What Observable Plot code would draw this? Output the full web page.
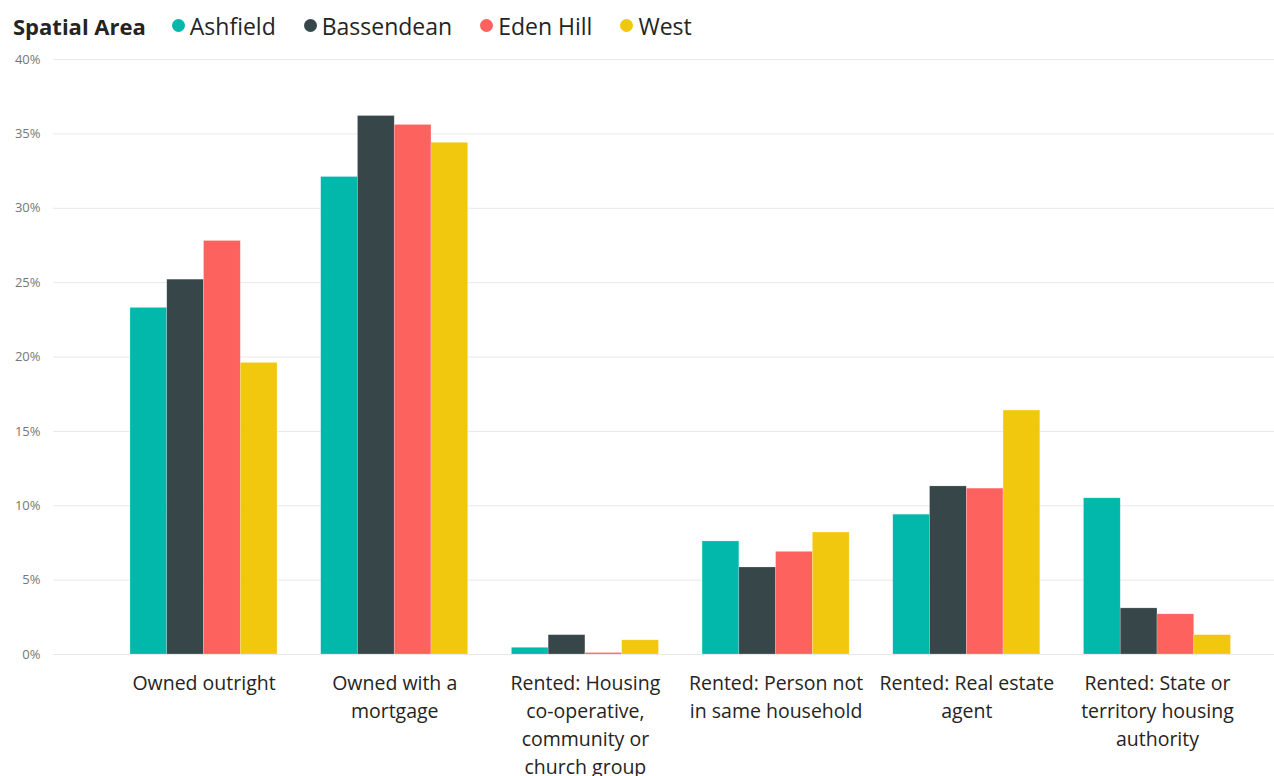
<!DOCTYPE html>
<html>
<head>
<meta charset="utf-8">
<script src="https://cdn.jsdelivr.net/npm/d3@7"></script>
<script src="https://cdn.jsdelivr.net/npm/@observablehq/plot@0.6"></script>
<style>
  html, body { margin: 0; padding: 0; background: #fff; overflow: hidden; }
  body { font-family: "Open Sans", "Noto Sans", sans-serif; }
  #legend { height: 48px; display: flex; align-items: center; padding-left: 13px; color: #252423; box-sizing: border-box; padding-top: 3px; }
  #legend .title { font-weight: 700; font-size: 22px; margin-right: 26px; }
  #legend .item { display: flex; align-items: center; margin-right: 28px; font-size: 23px; }
  #legend .dot { width: 13px; height: 13px; border-radius: 50%; margin-right: 5px; }
  #chart { position: relative; width: 1274px; height: 735px; }
  #chart svg { position: absolute; left: 0; top: 0; }
</style>
</head>
<body>
<div id="legend"></div>
<div id="chart"></div>
<script>
const categories = [
  "Owned outright",
  "Owned with a mortgage",
  "Rented: Housing co-operative, community or church group",
  "Rented: Person not in same household",
  "Rented: Real estate agent",
  "Rented: State or territory housing authority"
];
const tickLabels = [
  "Owned outright",
  "Owned with a\nmortgage",
  "Rented: Housing\nco-operative,\ncommunity or\nchurch group",
  "Rented: Person not\nin same household",
  "Rented: Real estate\nagent",
  "Rented: State or\nterritory housing\nauthority"
];
const series = ["Ashfield", "Bassendean", "Eden Hill", "West"];
const colors = ["#01B8AA", "#374649", "#FD625E", "#F2C80F"];
const ashfield   = [23.3, 32.1, 0.45, 7.6, 9.4, 10.5];
const bassendean = [25.2, 36.2, 1.3, 5.85, 11.3, 3.1];
const edenHill   = [27.8, 35.6, 0.1, 6.9, 11.15, 2.7];
const west       = [19.6, 34.4, 0.95, 8.2, 16.4, 1.3];
const yTicks = [0, 5, 10, 15, 20, 25, 30, 35, 40];

const seriesValues = [ashfield, bassendean, edenHill, west];
const data = [];
categories.forEach((c, i) => {
  series.forEach((s, j) => data.push({category: c, series: s, value: seriesValues[j][i]}));
});

// legend
const legend = document.getElementById("legend");
const t = document.createElement("span");
t.className = "title"; t.textContent = "Spatial Area";
legend.appendChild(t);
series.forEach((s, j) => {
  const it = document.createElement("span"); it.className = "item";
  const d = document.createElement("span"); d.className = "dot"; d.style.background = colors[j];
  const l = document.createElement("span"); l.textContent = s;
  it.appendChild(d); it.appendChild(l); legend.appendChild(it);
});

const common = {
  width: 1274,
  height: 735,
  marginTop: 11,
  marginLeft: 53,
  marginRight: 0,
  marginBottom: 129,
  y: {domain: [0, 40], axis: null}
};

// background layer: gridlines and y axis across the full frame
const grid = Plot.plot({
  ...common,
  style: {fontFamily: "'Open Sans', 'Noto Sans', sans-serif", background: "#fff"},
  marks: [
    Plot.ruleY(yTicks, {stroke: "#e8e8e8", strokeWidth: 1}),
    Plot.axisY({ticks: yTicks, tickSize: 0, tickPadding: 13, tickFormat: d => d + "%", fontSize: 13, fill: "#777", label: null})
  ]
});

// foreground layer: grouped bars and category labels
const bars = Plot.plot({
  ...common,
  style: {fontFamily: "'Open Sans', 'Noto Sans', sans-serif", background: "transparent"},
  fx: {domain: categories, paddingInner: 0.229, paddingOuter: 0.316, align: 0.639, round: false, label: null},
  x: {domain: series, axis: null, padding: 0, round: false},
  color: {domain: series, range: colors},
  marks: [
    Plot.barY(data, {fx: "category", x: "series", y: "value", fill: "series", stroke: "white", strokeOpacity: 0.35, strokeWidth: 0.6}),
    Plot.axisFx({anchor: "bottom", tickSize: 0, tickPadding: 16, tickFormat: d => tickLabels[categories.indexOf(d)], fontSize: 19.5, lineHeight: 1.436, fill: "#252423", label: null})
  ]
});
const chart = document.getElementById("chart");
chart.appendChild(grid);
chart.appendChild(bars);
</script>
</body>
</html>
